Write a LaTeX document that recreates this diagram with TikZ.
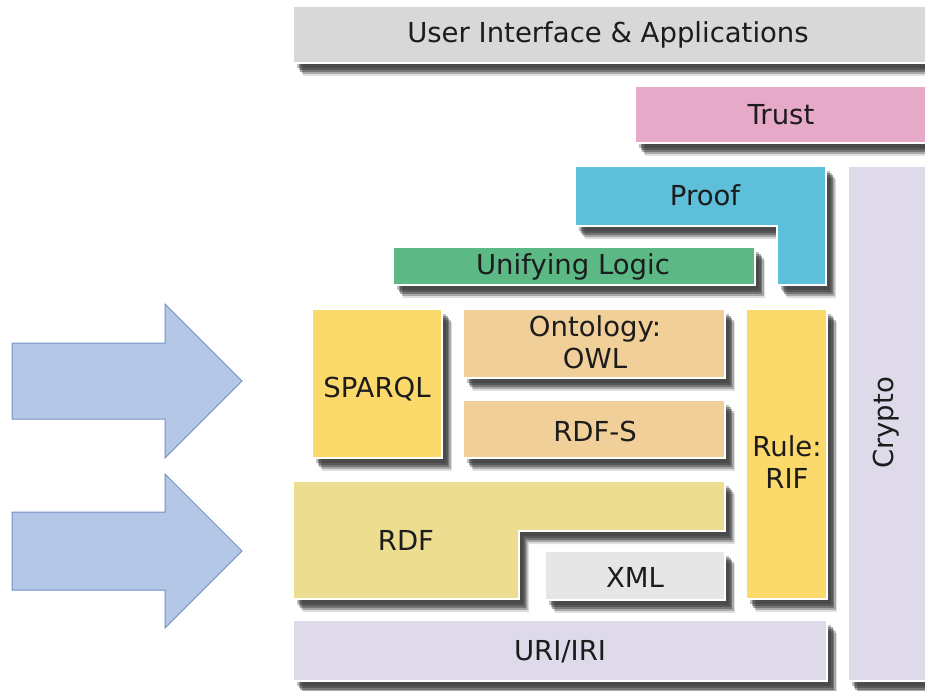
\documentclass[tikz,border=0pt]{standalone}
\usepackage{fontspec}
\setmainfont{DejaVu Sans}

\definecolor{uiGray}{HTML}{D9D8D9}
\definecolor{trustPink}{HTML}{E6A9C8}
\definecolor{proofBlue}{HTML}{5DBFD9}
\definecolor{logicGreen}{HTML}{5CB985}
\definecolor{ruleYellow}{HTML}{FCD96B}
\definecolor{owlTan}{HTML}{F1CF98}
\definecolor{rdfYellow}{HTML}{EDDD90}
\definecolor{xmlGray}{HTML}{E6E6E6}
\definecolor{uriLav}{HTML}{DEDAEA}
\definecolor{arrowFill}{HTML}{B4C7E7}
\definecolor{arrowLine}{HTML}{7090C3}
\definecolor{labelInk}{HTML}{1C1C1C}
\definecolor{shadeInk}{HTML}{2A2A2A}

\begin{document}
\begin{tikzpicture}[x=1pt,y=-1pt,
  softshade/.style n args={3}{preaction={fill=shadeInk, fill opacity=#3,
    transform canvas={xshift=#1, yshift=#2}}},
  layer/.style={draw=white, line width=1.6pt,
    softshade={10pt}{-13pt}{.15},
    softshade={8.5pt}{-11pt}{.3},
    softshade={7pt}{-9pt}{.4},
    softshade={5.5pt}{-7pt}{.4},
    softshade={4pt}{-5pt}{.3}},
  lbl/.style={font=\fontsize{27.5}{32}\selectfont, text=labelInk, align=center, inner sep=0pt},
  bigarrow/.style={fill=arrowFill, draw=arrowLine, line width=1pt, line join=miter}]
  \useasboundingbox (0,0) rectangle (925,690);

  % input arrows on the left
  \path[bigarrow] (12,343) -- (165,343) -- (165,304) -- (242,381) -- (165,458) -- (165,419) -- (12,419) -- cycle;
  \path[bigarrow] (12,512) -- (165,512) -- (165,474) -- (242,551) -- (165,628) -- (165,590) -- (12,590) -- cycle;

  % the layer stack
  \path[layer, fill=uiGray] (293,6) rectangle (945,63);
  \node[lbl] (ui) at (608,35) {User Interface \& Applications};

  \path[layer, fill=trustPink] (635,86) rectangle (945,143);
  \node[lbl] (trust) at (781,115) {Trust};

  \path[layer, fill=uriLav] (848,166) rectangle (945,681);
  \node[lbl, rotate=90] (crypto) at (886,423) {Crypto};

  \path[layer, fill=proofBlue] (575,166) -- (826,166) -- (826,285) -- (777,285) -- (777,226) -- (575,226) -- cycle;
  \node[lbl] (proof) at (705,195) {Proof};

  \path[layer, fill=logicGreen] (393,247) rectangle (755,285);
  \node[lbl] (logic) at (573,267) {Unifying Logic};

  \path[layer, fill=ruleYellow] (312,309) rectangle (442,458);
  \node[lbl] (sparql) at (377,389) {SPARQL};

  \path[layer, fill=owlTan] (463,309) rectangle (725,378);
  \node[lbl] (owl) at (595,342) {Ontology:\\OWL};

  \path[layer, fill=owlTan] (463,400) rectangle (725,458);
  \node[lbl] (rdfs) at (595,431) {RDF-S};

  \path[layer, fill=ruleYellow] (746,309) rectangle (827,599);
  \node[lbl] (rif) at (787,462) {Rule:\\RIF};

  \path[layer, fill=rdfYellow] (293,481) -- (725,481) -- (725,531) -- (519,531) -- (519,599) -- (293,599) -- cycle;
  \node[lbl] (rdf) at (406,540) {RDF};

  \path[layer, fill=xmlGray] (545,551) rectangle (725,600);
  \node[lbl] (xml) at (635,577) {XML};

  \path[layer, fill=uriLav] (293,620) rectangle (827,681);
  \node[lbl] (uri) at (560,652) {URI/IRI};
\end{tikzpicture}
\end{document}
